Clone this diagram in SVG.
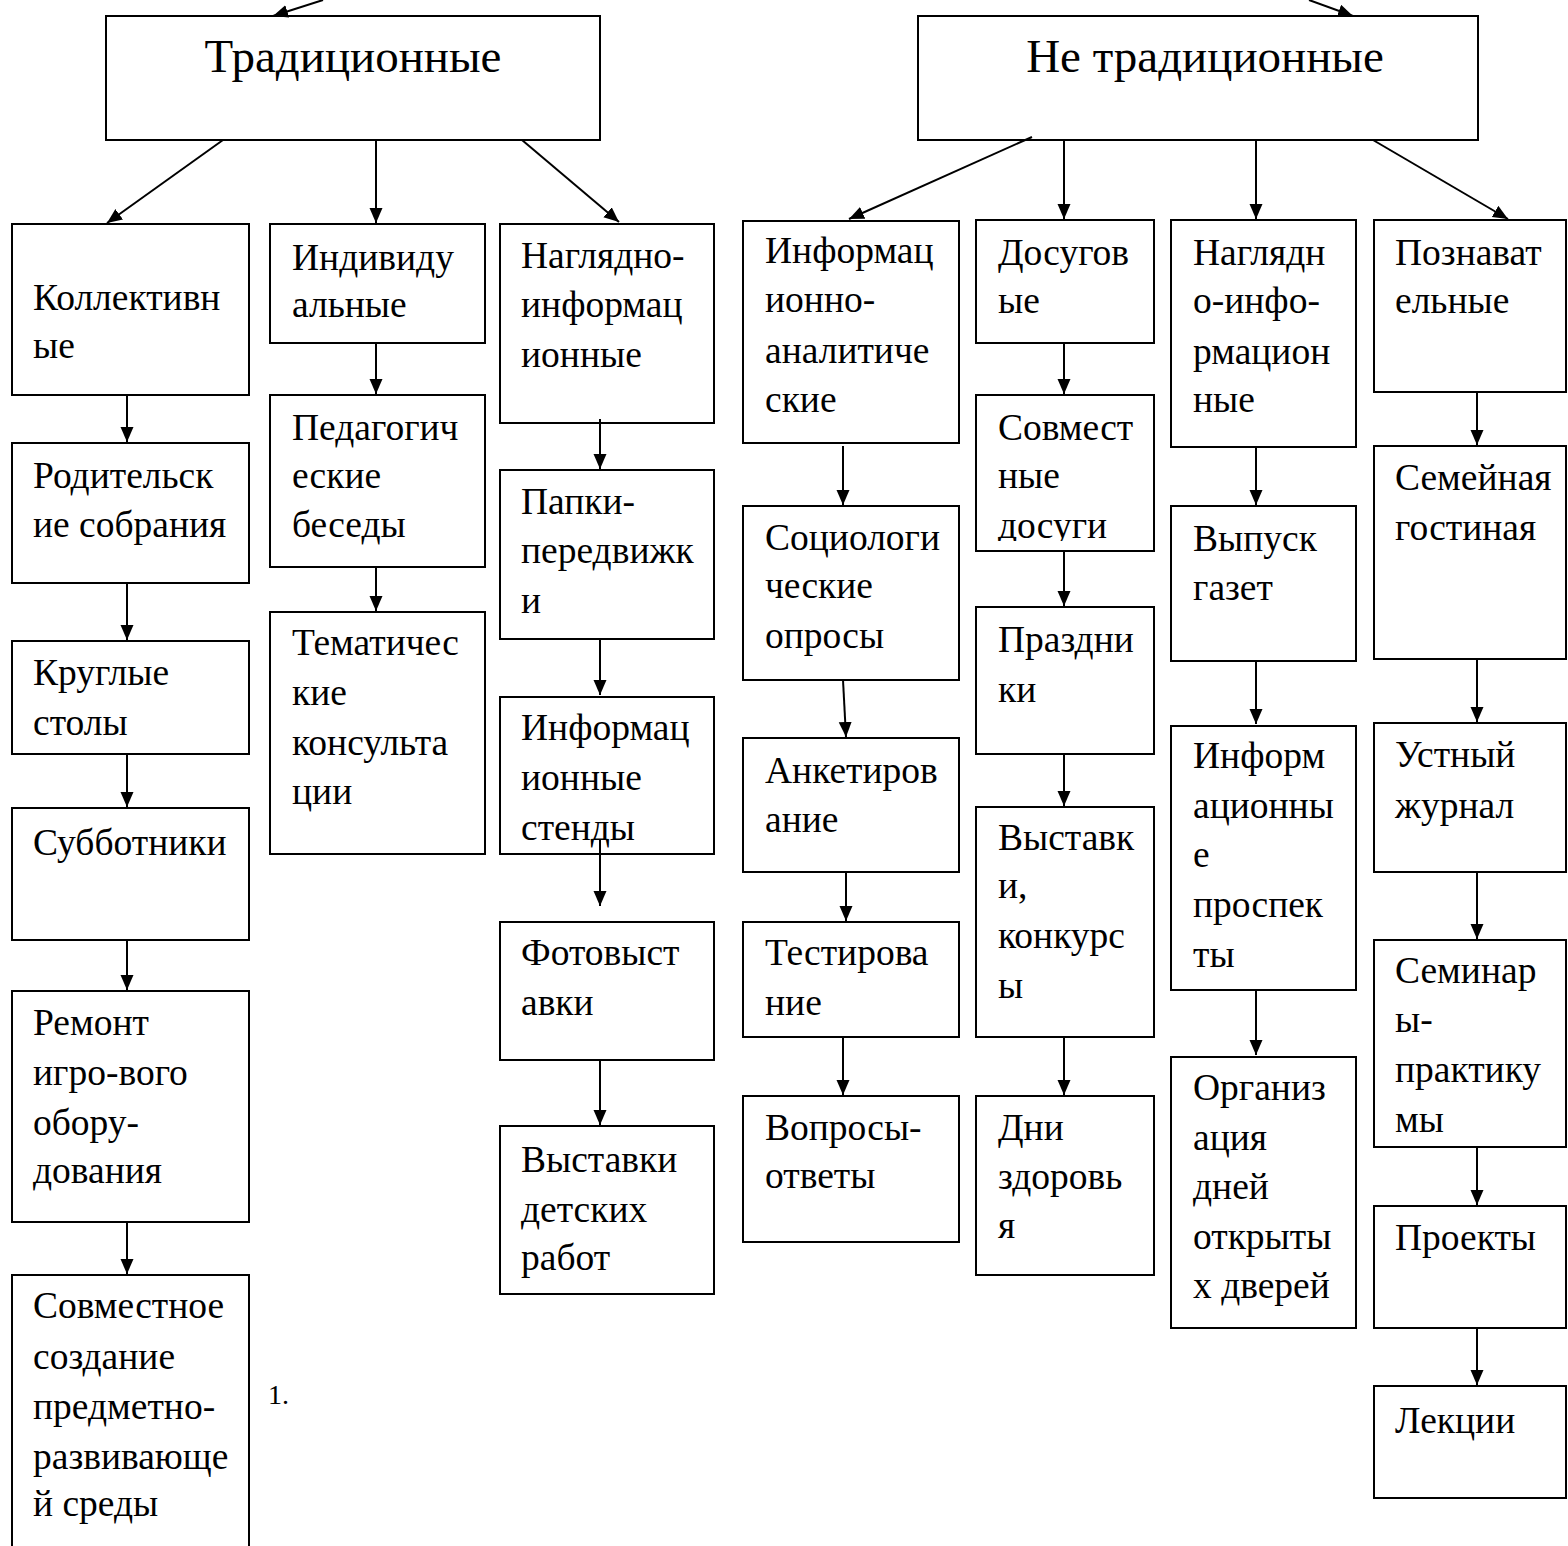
<svg xmlns="http://www.w3.org/2000/svg" width="1568" height="1546" viewBox="0 0 1568 1546">
<style>
  .box rect { fill: #fff; stroke: #000; stroke-width: 2; }
  text { font-family: "Liberation Serif", "Times New Roman", serif; font-size: 37.5px; fill: #000; }
  .big { font-size: 47px; text-anchor: middle; }
  .note { font-size: 28px; }
  #connectors line { stroke: #000; stroke-width: 2; marker-end: url(#arr); }
</style>
<defs>
  <marker id="arr" markerUnits="userSpaceOnUse" markerWidth="16" markerHeight="14" refX="15" refY="6.5" orient="auto">
    <path d="M0,0 L15,6.5 L0,13 z" fill="#000"/>
  </marker>
  <clipPath id="clipSovm"><rect x="976" y="395" width="178" height="146"/></clipPath>
</defs>
<rect width="1568" height="1546" fill="#fff"/>

<g id="n-trad" class="box"><rect x="106" y="16" width="494" height="124"/><text class="big" x="353" y="72">Традиционные</text></g>
<g id="n-netrad" class="box"><rect x="918" y="16" width="560" height="124"/><text class="big" x="1205" y="72">Не традиционные</text></g>

<g id="n-kollekt" class="box"><rect x="12" y="224" width="237" height="171"/><text x="33" y="310">Коллективн</text><text x="33" y="358">ые</text></g>
<g id="n-rodit" class="box"><rect x="12" y="443" width="237" height="140"/><text x="33" y="488">Родительск</text><text x="33" y="537">ие собрания</text></g>
<g id="n-krugl" class="box"><rect x="12" y="641" width="237" height="113"/><text x="33" y="685">Круглые</text><text x="33" y="735">столы</text></g>
<g id="n-subb" class="box"><rect x="12" y="808" width="237" height="132"/><text x="33" y="855">Субботники</text></g>
<g id="n-remont" class="box"><rect x="12" y="991" width="237" height="231"/><text x="33" y="1035">Ремонт</text><text x="33" y="1085">игро-вого</text><text x="33" y="1135">обору-</text><text x="33" y="1183">дования</text></g>
<g id="n-sovm-sozd" class="box"><rect x="12" y="1275" width="237" height="300"/><text x="33" y="1318">Совместное</text><text x="33" y="1369">создание</text><text x="33" y="1419">предметно-</text><text x="33" y="1469">развивающе</text><text x="33" y="1516">й среды</text></g>
<text class="note" x="268" y="1404">1.</text>

<g id="n-indiv" class="box"><rect x="270" y="224" width="215" height="119"/><text x="292" y="270">Индивиду</text><text x="292" y="317">альные</text></g>
<g id="n-pedag" class="box"><rect x="270" y="395" width="215" height="172"/><text x="292" y="440">Педагогич</text><text x="292" y="488">еские</text><text x="292" y="537">беседы</text></g>
<g id="n-temat" class="box"><rect x="270" y="612" width="215" height="242"/><text x="292" y="655">Тематичес</text><text x="292" y="705">кие</text><text x="292" y="755">консульта</text><text x="292" y="804">ции</text></g>

<g id="n-nagl1" class="box"><rect x="500" y="224" width="214" height="199"/><text x="521" y="268">Наглядно-</text><text x="521" y="317">информац</text><text x="521" y="367">ионные</text></g>
<g id="n-papki" class="box"><rect x="500" y="470" width="214" height="169"/><text x="521" y="514">Папки-</text><text x="521" y="563">передвижк</text><text x="521" y="613">и</text></g>
<g id="n-stendy" class="box"><rect x="500" y="697" width="214" height="157"/><text x="521" y="740">Информац</text><text x="521" y="790">ионные</text><text x="521" y="840">стенды</text></g>
<g id="n-foto" class="box"><rect x="500" y="922" width="214" height="138"/><text x="521" y="965">Фотовыст</text><text x="521" y="1015">авки</text></g>
<g id="n-vyst-det" class="box"><rect x="500" y="1126" width="214" height="168"/><text x="521" y="1172">Выставки</text><text x="521" y="1222">детских</text><text x="521" y="1270">работ</text></g>

<g id="n-infanal" class="box"><rect x="743" y="221" width="216" height="222"/><text x="765" y="263">Информац</text><text x="765" y="312">ионно-</text><text x="765" y="363">аналитиче</text><text x="765" y="412">ские</text></g>
<g id="n-sociol" class="box"><rect x="743" y="506" width="216" height="174"/><text x="765" y="550">Социологи</text><text x="765" y="598">ческие</text><text x="765" y="648">опросы</text></g>
<g id="n-anket" class="box"><rect x="743" y="738" width="216" height="134"/><text x="765" y="783">Анкетиров</text><text x="765" y="832">ание</text></g>
<g id="n-test" class="box"><rect x="743" y="922" width="216" height="115"/><text x="765" y="965">Тестирова</text><text x="765" y="1015">ние</text></g>
<g id="n-vopr" class="box"><rect x="743" y="1096" width="216" height="146"/><text x="765" y="1140">Вопросы-</text><text x="765" y="1188">ответы</text></g>

<g id="n-dosug" class="box"><rect x="976" y="220" width="178" height="123"/><text x="998" y="265">Досугов</text><text x="998" y="313">ые</text></g>
<g id="n-sovm-dos" class="box"><rect x="976" y="395" width="178" height="156"/><g clip-path="url(#clipSovm)"><text x="998" y="440">Совмест</text><text x="998" y="488">ные</text><text x="998" y="538">досуги</text></g></g>
<g id="n-prazd" class="box"><rect x="976" y="607" width="178" height="147"/><text x="998" y="652">Праздни</text><text x="998" y="702">ки</text></g>
<g id="n-vyst-konk" class="box"><rect x="976" y="807" width="178" height="230"/><text x="998" y="850">Выставк</text><text x="998" y="898">и,</text><text x="998" y="948">конкурс</text><text x="998" y="998">ы</text></g>
<g id="n-dni" class="box"><rect x="976" y="1096" width="178" height="179"/><text x="998" y="1140">Дни</text><text x="998" y="1189">здоровь</text><text x="998" y="1238">я</text></g>

<g id="n-nagl2" class="box"><rect x="1171" y="220" width="185" height="227"/><text x="1193" y="265">Наглядн</text><text x="1193" y="313">о-инфо-</text><text x="1193" y="364">рмацион</text><text x="1193" y="412">ные</text></g>
<g id="n-gazet" class="box"><rect x="1171" y="506" width="185" height="155"/><text x="1193" y="551">Выпуск</text><text x="1193" y="600">газет</text></g>
<g id="n-prosp" class="box"><rect x="1171" y="726" width="185" height="264"/><text x="1193" y="768">Информ</text><text x="1193" y="818">ационны</text><text x="1193" y="867">е</text><text x="1193" y="917">проспек</text><text x="1193" y="967">ты</text></g>
<g id="n-org" class="box"><rect x="1171" y="1057" width="185" height="271"/><text x="1193" y="1100">Организ</text><text x="1193" y="1150">ация</text><text x="1193" y="1199">дней</text><text x="1193" y="1249">открыты</text><text x="1193" y="1298">х дверей</text></g>

<g id="n-pozn" class="box"><rect x="1374" y="220" width="192" height="172"/><text x="1395" y="265">Познават</text><text x="1395" y="313">ельные</text></g>
<g id="n-semgost" class="box"><rect x="1374" y="446" width="192" height="213"/><text x="1395" y="490">Семейная</text><text x="1395" y="540">гостиная</text></g>
<g id="n-ustn" class="box"><rect x="1374" y="723" width="192" height="149"/><text x="1395" y="767">Устный</text><text x="1395" y="818">журнал</text></g>
<g id="n-semin" class="box"><rect x="1374" y="940" width="192" height="207"/><text x="1395" y="983">Семинар</text><text x="1395" y="1032">ы-</text><text x="1395" y="1082">практику</text><text x="1395" y="1132">мы</text></g>
<g id="n-proekt" class="box"><rect x="1374" y="1206" width="192" height="122"/><text x="1395" y="1250">Проекты</text></g>
<g id="n-lekc" class="box"><rect x="1374" y="1386" width="192" height="112"/><text x="1395" y="1433">Лекции</text></g>

<g id="connectors">
  <line x1="323" y1="0" x2="273" y2="16"/>
  <line x1="1309" y1="0" x2="1353" y2="16"/>
  <line x1="223" y1="140" x2="107" y2="223"/>
  <line x1="376" y1="140" x2="376" y2="223"/>
  <line x1="522" y1="140" x2="619" y2="222"/>
  <line x1="1032" y1="137" x2="849" y2="219"/>
  <line x1="1064" y1="140" x2="1064" y2="219"/>
  <line x1="1256" y1="140" x2="1256" y2="219"/>
  <line x1="1373" y1="140" x2="1508" y2="219"/>
  <line x1="127" y1="395" x2="127" y2="442"/>
  <line x1="127" y1="583" x2="127" y2="640"/>
  <line x1="127" y1="754" x2="127" y2="807"/>
  <line x1="127" y1="940" x2="127" y2="990"/>
  <line x1="127" y1="1222" x2="127" y2="1274"/>
  <line x1="376" y1="343" x2="376" y2="394"/>
  <line x1="376" y1="567" x2="376" y2="611"/>
  <line x1="600" y1="419" x2="600" y2="469"/>
  <line x1="600" y1="639" x2="600" y2="695"/>
  <line x1="600" y1="840" x2="600" y2="906"/>
  <line x1="600" y1="1060" x2="600" y2="1125"/>
  <line x1="843" y1="446" x2="843" y2="505"/>
  <line x1="843" y1="680" x2="846" y2="737"/>
  <line x1="846" y1="872" x2="846" y2="921"/>
  <line x1="843" y1="1037" x2="843" y2="1095"/>
  <line x1="1064" y1="343" x2="1064" y2="394"/>
  <line x1="1064" y1="551" x2="1064" y2="606"/>
  <line x1="1064" y1="754" x2="1064" y2="806"/>
  <line x1="1064" y1="1037" x2="1064" y2="1095"/>
  <line x1="1256" y1="447" x2="1256" y2="505"/>
  <line x1="1256" y1="661" x2="1256" y2="724"/>
  <line x1="1256" y1="990" x2="1256" y2="1055"/>
  <line x1="1477" y1="392" x2="1477" y2="445"/>
  <line x1="1477" y1="659" x2="1477" y2="722"/>
  <line x1="1477" y1="872" x2="1477" y2="939"/>
  <line x1="1477" y1="1147" x2="1477" y2="1205"/>
  <line x1="1477" y1="1328" x2="1477" y2="1385"/>
</g>
</svg>
